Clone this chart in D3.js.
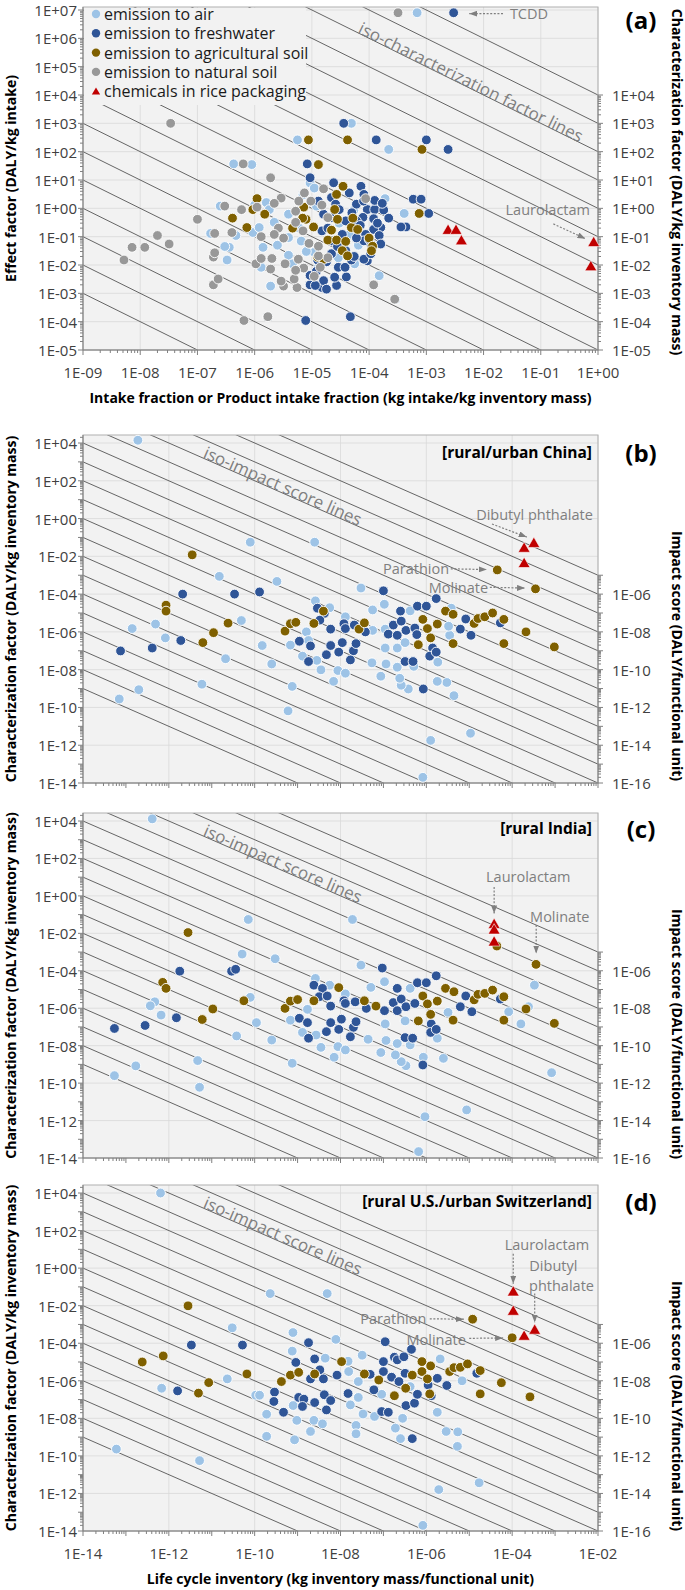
<!DOCTYPE html>
<html><head><meta charset="utf-8">
<script src="https://cdn.jsdelivr.net/npm/d3@7"></script>
<style>
body{margin:0;background:#fff}
svg{display:block}
text{font-family:'Open Sans','Noto Sans',sans-serif}
</style>
</head><body>
<svg id="chart" width="685" height="1590"></svg>
<script>
// ---------------- DATA ----------------
// Panel (a): [intake fraction, effect factor]
const aAir = [[6.9e-4,8e6],[4.9e-5,1e3],[5.6e-6,2.6e2],[2.2e-4,1.2e2],[4.3e-7,37],[8.9e-7,35],[9.3e-6,7.9],[1.1e-5,5.2],[1.9e-4,2.2],[2.5e-7,1.2],[1.6e-6,1.6],[1.7e-7,0.13],[4.7e-7,0.11],[3.6e-7,0.042],[3.3e-7,0.015],[1.7e-6,1.5e-4],[2.9e-4,6.2e-4],[1.5e-4,4.2e-3],[1.9e-6,1.8e-3],[3.9e-6,0.62],[3.9e-6,0.093],[1.4e-6,0.042],[3.9e-6,0.022],[1.3e-6,8.3e-3],[4.6e-6,0.011],[1.1e-5,0.028],[5.4e-5,0.85],[4.5e-5,0.12],[5.6e-5,0.011],[2.9e-5,0.018],[2.2e-6,0.32],[9.3e-7,0.14],[1.2e-6,0.21],[4.1e-4,0.66],[1.3e-5,8.3e-3],[1.0e-6,1.3],[7e-6,3.0],[3e-5,0.3],[6.5e-5,0.05],[2e-5,0.5],[1.6e-5,2.5e-3],[8e-6,0.03],[2.5e-6,0.05],[6e-6,0.2],[1.8e-6,0.9],[3e-7,0.045],[1.2e-5,1.2],[6.5e-6,0.07]];
const aFresh = [[3e-3,8e6],[3.6e-5,1e3],[1.33e-4,2.6e2],[1e-3,2.6e2],[2.4e-3,1.2e2],[8.3e-6,37],[9.3e-6,12],[7.2e-5,6],[5.9e-4,2.1],[8.1e-4,2.1],[7.8e-6,1.1e-4],[4.7e-5,1.5e-4],[1.5e-5,1.6e-3],[2.7e-5,1.9e-3],[2.5e-5,3.7e-3],[4e-5,3.8e-3],[9.3e-6,2e-3],[1.6e-5,2.8e-3],[1.3e-5,1.8],[2.2e-5,2.4],[2.6e-5,1.4],[4.5e-5,3.5],[8.1e-5,3.1],[9.3e-5,0.91],[1.25e-4,0.91],[1.8e-4,0.87],[2.2e-4,0.45],[1.2e-4,0.43],[7.8e-5,0.48],[1.6e-4,0.21],[1.2e-4,0.18],[8.7e-5,0.12],[1.5e-4,0.11],[1.6e-4,0.055],[1.07e-4,0.055],[8.1e-5,0.071],[9.3e-5,0.014],[8.1e-5,0.016],[4.4e-4,0.22],[3.6e-4,0.22],[1.1e-3,0.66],[3.9e-5,0.36],[1.6e-5,0.62],[1.5e-5,0.16],[2.2e-5,0.071],[3.4e-5,0.12],[3.9e-5,0.032],[2.2e-5,0.025],[2.9e-5,8.3e-3],[3.8e-5,8.3e-3],[1.8e-5,0.013],[1.26e-5,0.015],[9.3e-6,4.3e-3],[1.15e-5,1.9e-3],[1.8e-5,1.4e-3],[6e-5,0.36],[6e-5,1.4],[2.4e-5,8],[1.25e-4,1.9],[1.07e-4,0.025],[2.2e-5,0.47],[4.9e-5,0.015],[5e-5,0.7],[7e-5,0.25],[1.4e-4,0.3],[3e-5,0.9],[1e-4,0.08],[6e-5,0.09],[1.9e-5,0.2],[2.8e-5,0.045],[1.2e-5,6e-3],[5.5e-5,0.02],[1.7e-4,1.5],[8e-5,1.8]];
const aAgri = [[8.7e-6,2.6e2],[4.2e-5,2.6e2],[8.4e-4,1.2e2],[1.3e-5,35],[3.5e-5,6],[2.7e-5,3.1],[1.1e-6,2.2],[9.3e-7,0.9],[1.5e-6,0.62],[4.1e-7,0.45],[7.3e-7,0.21],[7.5e-4,0.66],[7.2e-6,1.1],[7.9e-6,0.41],[1.07e-5,0.22],[4.6e-6,0.2],[2.5e-5,0.91],[2.8e-5,0.41],[2.2e-5,0.17],[1.9e-5,0.076],[2.7e-5,0.076],[4.9e-5,0.21],[6.3e-5,0.18],[3.9e-5,0.068],[3.4e-5,0.032],[4.2e-5,0.021],[1e-4,0.089],[1.15e-4,0.046],[1.1e-4,0.032],[1.26e-5,0.019],[1.6e-5,0.016],[6.9e-6,0.45],[5.2e-5,0.45]];
const aNat = [[3.2e-4,8e6],[3.4e-8,1e3],[6.3e-7,37],[1.9e-6,12],[1.6e-5,4.9],[8.7e-5,2.2],[2.9e-6,2.3],[2.2e-6,1.5],[3e-7,1.2],[5.9e-7,0.9],[1.1e-6,1.1],[1e-7,0.41],[4e-7,0.14],[2e-7,0.13],[2e-8,0.11],[3.2e-8,0.055],[7.2e-9,0.042],[1.2e-8,0.042],[5.2e-9,0.015],[1.9e-7,0.019],[2e-7,0.027],[1.9e-7,2e-3],[2.3e-7,3.2e-3],[6.5e-7,1.1e-4],[1.7e-6,1.5e-4],[2.8e-4,6.2e-4],[1.2e-4,2e-3],[3.2e-6,1.8e-3],[5.5e-6,1.6e-3],[4.9e-6,3.2e-3],[2.9e-6,2.7e-3],[1.05e-6,0.011],[1.3e-6,0.017],[2e-6,0.017],[1.9e-6,7.2e-3],[3.4e-6,0.011],[5.8e-6,0.016],[7.2e-6,7.8e-3],[1.1e-5,4e-3],[1.4e-5,8.3e-3],[1.9e-5,0.018],[1.3e-5,0.021],[2.6e-6,0.2],[3.2e-6,0.089],[1.3e-6,0.1],[2.2e-6,0.12],[5.2e-6,0.32],[7e-6,0.16],[8.9e-6,0.058],[5.9e-6,1.8],[7.4e-6,3.5],[9.6e-6,1.8],[1.5e-5,1.3],[1.9e-5,0.47],[5.2e-6,0.79],[1.3e-5,0.046],[5.2e-6,6.5e-3]];
const aRice = [[2.4e-3,0.16],[3.3e-3,0.16],[4.1e-3,0.068],[0.84,0.059],[0.75,8.3e-3]];

// Panel (b) rural/urban China: [life cycle inventory, characterization factor]
const bAir = [[1.9e-13,1.4e4],[7.9e-11,0.056],[2.5e-9,0.056],[1.5e-11,8.7e-4],[3.3e-10,4.7e-4],[3e-8,2.1e-4],[4.9e-11,4e-6],[4.9e-13,2.6e-6],[1.4e-13,1.5e-6],[8.3e-13,4.8e-7],[2.1e-11,3.8e-8],[1.5e-10,1.9e-7],[2.5e-10,2e-8],[5.9e-12,1.7e-9],[2e-13,8.7e-10],[7e-14,2.8e-10],[7.5e-10,1.3e-9],[6e-10,6.6e-11],[1.26e-6,1.8e-12],[1.07e-5,4.3e-12],[8.3e-7,2e-14],[4.4e-6,4.2e-10],[3e-6,2.1e-9],[1.8e-6,2.4e-9],[3.8e-7,9.5e-10],[2.6e-7,1.5e-9],[2.4e-7,3.5e-9],[8.7e-8,4.5e-9],[5.4e-8,2.3e-8],[1.15e-7,2e-8],[2.1e-7,1.35e-8],[1.1e-7,1.4e-7],[5.1e-7,1.5e-8],[1.85e-6,2.5e-8],[3.5e-6,6.6e-7],[6.9e-9,2.4e-9],[3.5e-9,9.8e-9],[8.7e-9,9e-9],[1.3e-8,6.5e-9],[2.8e-9,3.1e-8],[1.3e-9,5.2e-8],[6.8e-10,2e-7],[1.6e-9,1e-6],[2.6e-9,4.4e-5],[5.6e-9,1.9e-5],[1.3e-8,6.3e-6],[5.6e-8,1.45e-5],[1.05e-7,2.9e-5],[1.1e-7,1.4e-6],[5.6e-8,1.2e-6],[4.2e-7,1.3e-5],[3.8e-6,1.8e-5],[2.1e-7,1.4e-7],[3.2e-7,2.7e-7],[3.3e-6,2e-6],[1.8e-9,3.5e-7]];
const bFresh = [[2.1e-12,1e-4],[3.4e-11,1e-4],[1.3e-10,1.3e-4],[1e-7,1.5e-4],[1.7e-6,5.8e-5],[1.9e-12,3.5e-7],[4.1e-13,1.4e-7],[7.5e-14,9.8e-8],[2.9e-9,1.8e-5],[4.2e-9,9.5e-6],[3.3e-9,4.2e-6],[5.9e-9,1.4e-6],[1.2e-8,2.7e-6],[1.3e-8,1.5e-6],[2.1e-8,2.3e-6],[3.8e-8,1e-6],[1.1e-9,3.2e-7],[2e-9,1.8e-7],[1.8e-9,2.7e-8],[4.7e-9,6.2e-8],[5.9e-9,1.9e-7],[9.1e-9,8.5e-8],[1.1e-8,2.7e-7],[2e-8,1e-7],[2.3e-8,2.4e-7],[1.7e-8,3.3e-8],[1.3e-7,7.6e-7],[1.7e-7,2.3e-6],[2.1e-7,6.6e-7],[2.5e-7,1.26e-5],[2.6e-7,3.7e-6],[3.35e-7,1.2e-6],[5.4e-7,1.6e-6],[6.2e-7,2.3e-5],[1e-6,2.3e-5],[1.4e-6,1.4e-7],[1.2e-6,5.2e-8],[1.7e-6,8.5e-8],[3.2e-7,2.7e-8],[4.9e-7,2.7e-8],[6.2e-6,1.4e-6],[8.3e-6,4.8e-6],[1.1e-5,6.6e-7],[5.3e-5,3e-6],[6e-7,7.2e-7],[8.5e-7,9.5e-10]];
const bAgri = [[3.5e-12,0.012],[8.6e-13,2.6e-5],[8.6e-13,1.26e-5],[2.4e-11,2.9e-6],[6.2e-12,2.7e-7],[1.1e-11,9.1e-7],[5.1e-10,1.1e-6],[6.8e-10,2.7e-6],[9.1e-10,3.2e-6],[2.4e-9,2.8e-6],[4e-9,1.26e-5],[2.7e-8,1.4e-6],[3.6e-8,3e-6],[6.5e-7,2.1e-7],[8.3e-7,4.6e-6],[1.06e-6,1.5e-6],[1.26e-6,4.8e-7],[1.8e-6,2.6e-6],[2.8e-6,1.26e-5],[4.2e-6,8.5e-6],[4.2e-6,2.4e-7],[1.3e-5,2.8e-6],[1.6e-5,5.1e-6],[2.3e-5,6.3e-6],[3.5e-5,1e-5],[6.4e-5,4.6e-6],[6.4e-5,2.4e-7],[2.1e-4,1e-6],[9.6e-4,1.6e-7],[4.5e-5,1.9e-3],[3.5e-4,1.9e-4]];
const bRice = [[3.2e-4,0.045],[1.9e-4,0.025],[1.9e-4,3.9e-3]];

// Panel (c) rural India
const cAir = [[4.1e-13,1.3e4],[7.1e-11,0.055],[1.9e-8,0.055],[5.1e-11,7.8e-4],[3e-10,4.4e-4],[3e-8,2e-4],[3.3e-4,1.7e-5],[4.7e-13,2.2e-6],[3.7e-13,1.35e-6],[6.6e-13,4.3e-7],[7.9e-11,3.8e-6],[3.8e-11,3.3e-8],[1.1e-10,1.7e-7],[2.5e-10,2e-8],[4.7e-12,1.6e-9],[1.7e-13,8.3e-10],[5.4e-14,2.5e-10],[5.2e-12,6e-11],[7.5e-10,1.15e-9],[9.3e-7,1.6e-12],[8.7e-6,3.7e-12],[6.6e-7,2.2e-14],[8.3e-4,3.6e-10],[1.6e-4,1.45e-7],[8.3e-5,6.5e-7],[2.4e-4,1.2e-6],[2.5e-6,2.1e-9],[8.5e-7,2.4e-9],[3.35e-7,8.5e-10],[2.6e-7,1.4e-9],[1.9e-7,3.2e-9],[8.7e-8,4.3e-9],[4.4e-8,2.2e-8],[1.15e-7,1.9e-8],[2.1e-7,1.3e-8],[4.2e-7,1.1e-8],[1.8e-6,2.5e-8],[1.1e-7,1.45e-7],[3.2e-7,2.1e-7],[3.2e-6,6e-7],[5.1e-8,1.3e-5],[1.06e-7,2.6e-5],[4.2e-7,1.15e-5],[2.6e-9,3.9e-5],[5.6e-9,1.7e-5],[1.3e-8,5.8e-6],[1.7e-9,8.7e-7],[6.8e-10,2.3e-7],[1.3e-9,5.1e-8],[2.7e-9,3.7e-8],[3.5e-9,8.1e-9],[8.7e-9,8.9e-9],[1.3e-8,5.9e-9],[7.1e-9,2.4e-9]];
const cFresh = [[1.8e-12,9.5e-5],[2.9e-11,9.5e-5],[3.6e-11,1.2e-4],[9.4e-8,1.4e-4],[1.7e-6,5.4e-5],[1.5e-12,3.1e-7],[2.8e-13,1.2e-7],[5.4e-14,8.3e-8],[8.3e-7,9.3e-10],[2.4e-9,1.7e-5],[3.8e-9,1.15e-5],[3.2e-9,4.1e-6],[4.9e-9,4.5e-6],[5.9e-9,1.3e-6],[1.2e-8,2.5e-6],[1.3e-8,1.8e-6],[2.2e-8,2.2e-6],[4e-8,9.8e-7],[1.1e-9,2.9e-7],[1.7e-9,1.7e-7],[1.8e-9,2.5e-8],[4.7e-9,5.6e-8],[5.9e-9,1.7e-7],[9.1e-9,7.4e-8],[1.05e-8,2.6e-7],[2e-8,9.5e-8],[2.3e-8,1.9e-7],[1.7e-8,3e-8],[1.06e-7,7.4e-7],[1.7e-7,2e-6],[2.1e-7,1.15e-5],[2.6e-7,3.1e-6],[2.1e-7,7.4e-7],[3.35e-7,1.2e-6],[5.4e-7,1.8e-6],[6.2e-7,2.3e-5],[1e-6,2.3e-5],[1.3e-6,1.45e-7],[1.26e-6,5.1e-8],[1.7e-6,7.4e-8],[3.2e-7,2.7e-8],[4.8e-7,2.5e-8],[6.2e-6,1.2e-6],[8.3e-6,4.5e-6],[1.15e-5,6.5e-7],[5.3e-5,3.1e-6]];
const cAgri = [[2.8e-12,0.011],[7.2e-13,2.4e-5],[8.6e-13,1.15e-5],[6e-12,2.5e-7],[1.06e-11,9.1e-7],[5.6e-11,2.5e-6],[5.1e-10,9.8e-7],[6.8e-10,2.4e-6],[1e-9,2.9e-6],[2.4e-9,2.5e-6],[9.1e-9,1.26e-5],[3.6e-8,2.5e-6],[6.7e-8,1.3e-6],[6.5e-7,2.1e-7],[8.3e-7,4.5e-6],[1.06e-6,1.7e-6],[1.26e-6,4.7e-7],[1.8e-6,2.4e-6],[2.8e-6,1.15e-5],[4.4e-6,7.6e-6],[4.2e-6,2.3e-7],[1.3e-5,2.8e-6],[1.6e-5,5.5e-6],[2.3e-5,6.2e-6],[3.5e-5,9.3e-6],[6.4e-5,4.1e-6],[6.4e-5,2.3e-7],[2.1e-4,9.1e-7],[9.6e-4,1.55e-7],[4.4e-5,2.1e-3],[3.6e-4,2.2e-4]];
const cRice = [[3.8e-5,0.028],[3.8e-5,0.014],[3.8e-5,3.2e-3]];

// Panel (d) rural U.S./urban Switzerland
const dAir = [[6.4e-13,1e4],[2.3e-10,0.044],[4.9e-9,0.044],[3e-11,6.6e-4],[7.8e-10,3.7e-4],[7.8e-9,1.6e-4],[6.8e-13,4e-7],[2.3e-11,1.26e-6],[6e-14,2.3e-10],[5.2e-12,5.6e-11],[1.06e-10,1.7e-7],[1.9e-10,1.65e-8],[1.9e-10,1.1e-9],[8.5e-10,7.2e-10],[9.6e-10,7.8e-9],[2e-9,2e-9],[2.4e-9,7.8e-9],[3.8e-9,5.1e-9],[7.9e-10,4.8e-8],[7.5e-10,3.8e-5],[4.4e-9,1.6e-5],[1.5e-8,1.1e-5],[1.55e-8,3.1e-6],[3.2e-8,2.3e-5],[2.6e-8,9.1e-7],[2.6e-8,1.3e-7],[1.7e-8,5.2e-8],[3.35e-8,1.7e-8],[2.3e-8,4.2e-9],[2.3e-8,1.5e-9],[6.2e-8,1.26e-8],[9.1e-8,1.9e-7],[2.8e-7,1e-8],[1.9e-7,3e-9],[2.5e-7,8.3e-10],[1.8e-6,2.1e-8],[2.9e-6,2e-9],[5.4e-6,1.9e-9],[5.3e-6,3.2e-10],[1.7e-5,3.7e-12],[1.95e-6,1.6e-12],[8.3e-7,2e-14],[6.8e-6,1e-6],[2.1e-6,1.45e-5],[4.2e-7,4.9e-7],[1.3e-10,1.7e-7]];
const dFresh = [[3.35e-12,8e-5],[5.2e-11,8e-5],[1.8e-9,1.07e-4],[1.1e-7,1.2e-4],[4.5e-7,4.7e-5],[1.6e-12,2.9e-7],[2.9e-10,2.5e-7],[2.8e-10,7.9e-8],[4.7e-10,2.1e-8],[9.1e-10,9.5e-6],[1.06e-9,1.3e-7],[1.4e-9,1.05e-7],[1.3e-9,4.3e-8],[2e-9,1.26e-6],[2.5e-9,1.45e-5],[2.5e-9,6.9e-8],[3.3e-9,3.8e-6],[4e-9,1.26e-6],[4.2e-9,1.8e-7],[4.7e-9,2.8e-8],[5.9e-9,8.9e-8],[8.3e-9,2e-6],[1.5e-8,2.1e-7],[4.9e-8,2.2e-6],[6e-8,3.3e-7],[1e-7,1.05e-5],[1e-7,3.1e-6],[9.1e-8,2.3e-8],[1.3e-7,2.1e-8],[1.55e-7,1.55e-6],[1.8e-7,1.8e-5],[2.1e-7,1.3e-5],[2.3e-7,9.1e-7],[3e-7,1.9e-5],[3.2e-7,2.5e-6],[3.35e-7,4.8e-8],[5.3e-7,6.4e-8],[6.2e-7,1.9e-7],[4.7e-7,8.3e-10],[1.1e-6,6e-7],[1.3e-6,1.6e-7],[1.8e-6,1.35e-6],[3e-6,5.6e-7],[4.1e-6,4.1e-6],[1.5e-5,2.5e-6]];
const dAgri = [[2.8e-12,9.8e-3],[2.4e-13,1e-5],[7.4e-13,2.1e-5],[4.9e-12,2.2e-7],[8.5e-12,8e-7],[6.6e-11,2.3e-6],[4.2e-10,9.1e-7],[6.8e-10,2e-6],[1.06e-9,2.8e-6],[2.5e-9,2.3e-6],[1.06e-8,1.05e-5],[3.6e-8,2.3e-6],[7.8e-8,1.1e-6],[1.8e-7,1.6e-7],[3.3e-7,4e-7],[4.7e-7,2e-6],[7.9e-7,1.05e-5],[7.9e-7,3.1e-6],[1.06e-6,1.26e-6],[1.2e-6,2e-7],[1.26e-6,6.2e-6],[3.5e-6,3.1e-6],[4.4e-6,5e-6],[6.2e-6,5.2e-6],[9.1e-6,7.9e-6],[1.8e-5,3.5e-6],[1.8e-5,2e-7],[5.6e-5,7.9e-7],[2.6e-4,1.4e-7],[1.2e-5,1.9e-3],[1e-4,1.95e-4]];
const dRice = [[1.06e-4,0.05],[1.06e-4,4.7e-3],[1.9e-4,2.2e-4],[3.35e-4,4.6e-4]];

// ---------------- TICKS / CATEGORIES ----------------
const legendLabels = ["emission to air","emission to freshwater","emission to agricultural soil","emission to natural soil","chemicals in rice packaging"];
const aXTicks = [1e-9,1e-8,1e-7,1e-6,1e-5,1e-4,1e-3,1e-2,1e-1,1e0];
const aYTicks = [1e-5,1e-4,1e-3,1e-2,1e-1,1e0,1e1,1e2,1e3,1e4,1e5,1e6,1e7];
const aRightTicks = [1e-5,1e-4,1e-3,1e-2,1e-1,1e0,1e1,1e2,1e3,1e4];
const lciTicks = [1e-14,1e-12,1e-10,1e-8,1e-6,1e-4,1e-2];
const cfTicks = [1e-14,1e-12,1e-10,1e-8,1e-6,1e-4,1e-2,1e0,1e2,1e4];
const impactTicks = [1e-16,1e-14,1e-12,1e-10,1e-8,1e-6];
const isoCF = [1e-12,1e-11,1e-10,1e-9,1e-8,1e-7,1e-6,1e-5,1e-4,1e-3,1e-2,1e-1,1e0,1e1,1e2,1e3,1e4];
const isoImpact = [1e-23,1e-22,1e-21,1e-20,1e-19,1e-18,1e-17,1e-16,1e-15,1e-14,1e-13,1e-12,1e-11,1e-10,1e-9,1e-8,1e-7,1e-6,1e-5];

// ---------------- RENDER ----------------
const COL = {air:"#9DC3E6", fresh:"#2F5597", agri:"#7F6000", nat:"#989898", rice:"#C00000"};
const GRAY = "#7f7f7f";
const svg = d3.select("#chart");
const X0 = 83, X1 = 598;
const fmt = v => { const e = Math.round(Math.log10(v)); return "1E" + (e < 0 ? "-" : "+") + String(Math.abs(e)).padStart(2, "0"); };

const defs = svg.append("defs");
defs.append("marker").attr("id","arr").attr("viewBox","0 0 8 6").attr("refX",8).attr("refY",3)
  .attr("markerWidth",8).attr("markerHeight",6).attr("markerUnits","userSpaceOnUse").attr("orient","auto")
  .append("path").attr("d","M0,0L8,3L0,6Z").attr("fill",GRAY);

function decades(lo, hi) { const out = []; for (let e = Math.round(Math.log10(lo)); e <= Math.round(Math.log10(hi)); e++) out.push(Math.pow(10, e)); return out; }

function panel(p) {
  const g = svg.append("g");
  const x = d3.scaleLog().domain(p.xDom).range([X0, X1]);
  const y = d3.scaleLog().domain(p.yDom).range([p.yBot, p.yTopTick]);
  const top = p.top, bot = p.yBot;
  const clipId = "clip_" + p.name;
  defs.append("clipPath").attr("id", clipId).append("rect").attr("x", X0).attr("y", top).attr("width", X1 - X0).attr("height", bot - top);

  g.append("rect").attr("x", X0).attr("y", top).attr("width", X1 - X0).attr("height", bot - top).attr("fill", "#f2f2f2");
  // gridlines
  p.xTicks.forEach(v => g.append("line").attr("x1", x(v)).attr("x2", x(v)).attr("y1", top).attr("y2", bot).attr("stroke", "#d9d9d9").attr("stroke-width", 0.8));
  p.yTicks.filter(v => y(v) >= top).forEach(v => g.append("line").attr("x1", X0).attr("x2", X1).attr("y1", y(v)).attr("y2", y(v)).attr("stroke", "#d9d9d9").attr("stroke-width", 0.8));
  // iso lines
  const lx0 = Math.log10(p.xDom[0]), lx1 = Math.log10(p.xDom[1]);
  const gi = g.append("g").attr("clip-path", `url(#${clipId})`);
  p.iso.forEach(k => {
    const lk = Math.log10(k);
    gi.append("line").attr("x1", x(p.xDom[0])).attr("y1", y(Math.pow(10, lk - lx0)))
      .attr("x2", x(p.xDom[1])).attr("y2", y(Math.pow(10, lk - lx1)))
      .attr("stroke", "#555").attr("stroke-width", 0.9);
  });
  const ang = Math.atan2(y(1e-1) - y(1), x(10) - x(1)) * 180 / Math.PI;
  {
    const lx = p.isoLabel.lx, ly = p.isoLabel.k - lx;
    gi.append("text").attr("transform", `translate(${x(Math.pow(10, lx))},${y(Math.pow(10, ly))}) rotate(${ang})`)
      .attr("dominant-baseline", "central").attr("fill", GRAY).attr("font-size", 17).text(p.isoLabel.text);
  }
  if (p.legend) {
    g.append("rect").attr("x", X0 + 1).attr("y", top + 1).attr("width", 222).attr("height", 97).attr("fill", "#f2f2f2");
    const keys = ["air", "fresh", "agri", "nat", "rice"];
    legendLabels.forEach((t, i) => {
      const cy = top + 7 + i * 19.3;
      if (keys[i] === "rice") g.append("path").attr("d", d3.symbol(d3.symbolTriangle, 30)()).attr("transform", `translate(96,${cy + 1})`).attr("fill", COL.rice);
      else g.append("circle").attr("cx", 96).attr("cy", cy).attr("r", 4.2).attr("fill", COL[keys[i]]);
      g.append("text").attr("x", 104).attr("y", cy).attr("dominant-baseline", "central").attr("font-size", 16).attr("fill", "#1a1a1a").text(t);
    });
  }
  g.append("rect").attr("x", X0).attr("y", top).attr("width", X1 - X0).attr("height", bot - top).attr("fill", "none").attr("stroke", "#b0b0b0").attr("stroke-width", 1);
  // axes
  const ax = g.append("g").attr("stroke", "#808080").attr("stroke-width", 1);
  ax.append("line").attr("x1", X0).attr("x2", X0).attr("y1", top).attr("y2", bot);
  ax.append("line").attr("x1", X0).attr("x2", X1).attr("y1", bot).attr("y2", bot);
  decades(p.yDom[0], p.yTopVal).forEach(v => {
    ax.append("line").attr("x1", X0 - 5).attr("x2", X0).attr("y1", y(v)).attr("y2", y(v));
    for (let m = 2; m <= 9; m++) { const yy = y(v * m); if (yy >= top && v * m < p.yTopVal * 3) ax.append("line").attr("x1", X0 - 3).attr("x2", X0).attr("y1", yy).attr("y2", yy); }
  });
  decades(p.xDom[0], p.xDom[1]).forEach(v => {
    ax.append("line").attr("x1", x(v)).attr("x2", x(v)).attr("y1", bot).attr("y2", bot + 5);
    if (v < p.xDom[1]) for (let m = 2; m <= 9; m++) ax.append("line").attr("x1", x(v * m)).attr("x2", x(v * m)).attr("y1", bot).attr("y2", bot + 3);
  });
  const rTop = y(p.rightStart / p.xDom[1]);
  ax.append("line").attr("x1", X1).attr("x2", X1).attr("y1", rTop).attr("y2", bot);
  decades(p.yDom[0], p.rightStart / p.xDom[1]).forEach(v => {
    ax.append("line").attr("x1", X1).attr("x2", X1 + 5).attr("y1", y(v)).attr("y2", y(v));
    if (v < p.rightStart / p.xDom[1]) for (let m = 2; m <= 9; m++) ax.append("line").attr("x1", X1).attr("x2", X1 + 3).attr("y1", y(v * m)).attr("y2", y(v * m));
  });
  // tick labels
  const tl = g.append("g").attr("font-size", 15).attr("fill", "#404040");
  p.yTicks.forEach(v => tl.append("text").attr("x", X0 - 6).attr("y", y(v)).attr("text-anchor", "end").attr("dominant-baseline", "central").text(fmt(v)));
  p.rightTicks.forEach(v => tl.append("text").attr("x", X1 + 14).attr("y", y(v / p.xDom[1])).attr("dominant-baseline", "central").text(fmt(v)));
  if (p.xLabels) p.xTicks.forEach(v => tl.append("text").attr("x", x(v)).attr("y", bot + 22).attr("text-anchor", "middle").attr("dominant-baseline", "central").text(fmt(v)));
  // axis titles
  const tt = g.append("g").attr("font-size", 14).attr("font-weight", "bold").attr("fill", "#000");
  tt.append("text").attr("transform", `translate(10,${(top + bot) / 2}) rotate(-90)`).attr("text-anchor", "middle").attr("dominant-baseline", "central").text(p.leftTitle);
  tt.append("text").attr("transform", `translate(677,${p.rightTitleY}) rotate(90)`).attr("text-anchor", "middle").attr("dominant-baseline", "central").text(p.rightTitle);
  if (p.xTitle) tt.append("text").attr("x", (X0 + X1) / 2).attr("y", bot + 47).attr("text-anchor", "middle").attr("dominant-baseline", "central").text(p.xTitle);
  g.append("text").attr("x", 641).attr("y", p.letterY).attr("text-anchor", "middle").attr("dominant-baseline", "central").attr("font-size", 24).attr("font-weight", "bold").text(p.letter);
  if (p.subtitle) g.append("text").attr("x", 592).attr("y", p.letterY).attr("text-anchor", "end").attr("dominant-baseline", "central").attr("font-size", 15.5).attr("font-weight", "bold").text(p.subtitle);
  // points
  const gp = g.append("g");
  p.series.forEach(s => {
    if (s.key === "rice") {
      s.data.forEach(d => gp.append("path").attr("d", d3.symbol(d3.symbolTriangle, 62)()).attr("transform", `translate(${x(d[0])},${y(d[1])})`).attr("fill", COL.rice).attr("stroke", "#fff").attr("stroke-width", 0.6));
    } else {
      gp.selectAll(null).data(s.data).enter().append("circle").attr("cx", d => x(d[0])).attr("cy", d => y(d[1])).attr("r", 4.9)
        .attr("fill", COL[s.key]).attr("stroke", "#fff").attr("stroke-width", 0.9);
    }
  });
  // annotations
  const ga = g.append("g");
  p.texts.forEach(t => ga.append("text").attr("x", x(Math.pow(10, t.lx))).attr("y", y(Math.pow(10, t.ly)))
    .attr("text-anchor", t.anchor).attr("dominant-baseline", "central").attr("font-size", 14.5).attr("fill", GRAY).text(t.t));
  p.arrows.forEach(a => ga.append("line").attr("x1", x(Math.pow(10, a[0]))).attr("y1", y(Math.pow(10, a[1])))
    .attr("x2", x(Math.pow(10, a[2]))).attr("y2", y(Math.pow(10, a[3])))
    .attr("stroke", GRAY).attr("stroke-width", 1.2).attr("stroke-dasharray", "2,1.6").attr("marker-end", "url(#arr)"));
}

const cfTitle = "Characterization factor (DALY/kg inventory mass)";
const impTitle = "Impact score (DALY/functional unit)";

panel({
  name: "a", xDom: [1e-9, 1e0], yDom: [1e-5, 1e7], yBot: 350, yTopTick: 10, top: 7, yTopVal: 1e7,
  xTicks: aXTicks, yTicks: aYTicks, rightTicks: aRightTicks, rightStart: 1e4, xLabels: true,
  iso: isoCF, isoLabel: {text: "iso-characterization factor lines", lx: -4.16, k: 2.25},
  legend: true,
  leftTitle: "Effect factor (DALY/kg intake)", rightTitle: cfTitle, rightTitleY: 182,
  xTitle: "Intake fraction or Product intake fraction (kg intake/kg inventory mass)",
  letter: "(a)", letterY: 19,
  series: [{key: "air", data: aAir}, {key: "fresh", data: aFresh}, {key: "agri", data: aAgri}, {key: "nat", data: aNat}, {key: "rice", data: aRice}],
  texts: [{t: "TCDD", lx: -1.54, ly: 6.86, anchor: "start"}, {t: "Laurolactam", lx: -0.14, ly: -0.05, anchor: "end"}],
  arrows: [[-1.66, 6.87, -2.25, 6.87], [-0.78, -0.55, -0.22, -1.07]]
});

function lcPanel(o) {
  panel(Object.assign({
    xDom: [1e-14, 1e-2], yDom: [1e-14, 1e4], yTopVal: 1e4,
    xTicks: lciTicks, yTicks: cfTicks, rightTicks: impactTicks, rightStart: 1e-5,
    iso: isoImpact, isoLabel: {text: "iso-impact score lines", lx: -11.16, k: -7.6},
    leftTitle: cfTitle, rightTitle: impTitle
  }, o));
}

lcPanel({
  name: "b", yBot: 783, yTopTick: 443, top: 435, rightTitleY: 656, letter: "(b)", letterY: 452, subtitle: "[rural/urban China]",
  series: [{key: "air", data: bAir}, {key: "fresh", data: bFresh}, {key: "agri", data: bAgri}, {key: "rice", data: bRice}],
  texts: [{t: "Dibutyl phthalate", lx: -2.12, ly: 0.24, anchor: "end"}, {t: "Parathion", lx: -5.47, ly: -2.62, anchor: "end"}, {t: "Molinate", lx: -4.56, ly: -3.67, anchor: "end"}],
  arrows: [[-4.47, -0.29, -3.66, -0.98], [-5.43, -2.66, -4.59, -2.7], [-4.52, -3.64, -3.7, -3.68]]
});

lcPanel({
  name: "c", yBot: 1158, yTopTick: 821, top: 813, rightTitleY: 1034, letter: "(c)", letterY: 828, subtitle: "[rural India]",
  series: [{key: "air", data: cAir}, {key: "fresh", data: cFresh}, {key: "agri", data: cAgri}, {key: "rice", data: cRice}],
  texts: [{t: "Laurolactam", lx: -3.625, ly: 1.06, anchor: "middle"}, {t: "Molinate", lx: -2.89, ly: -1.08, anchor: "middle"}],
  arrows: [[-4.42, 0.48, -4.42, -0.94], [-3.44, -1.56, -3.44, -3.08]]
});

lcPanel({
  name: "d", yBot: 1531, yTopTick: 1193, top: 1185, rightTitleY: 1406, letter: "(d)", letterY: 1201, subtitle: "[rural U.S./urban Switzerland]",
  xLabels: true, xTitle: "Life cycle inventory (kg inventory mass/functional unit)",
  series: [{key: "air", data: dAir}, {key: "fresh", data: dFresh}, {key: "agri", data: dAgri}, {key: "rice", data: dRice}],
  texts: [{t: "Laurolactam", lx: -3.19, ly: 1.24, anchor: "middle"}, {t: "Dibutyl", lx: -3.04, ly: 0.15, anchor: "middle"}, {t: "phthalate", lx: -2.85, ly: -0.9, anchor: "middle"},
          {t: "Parathion", lx: -6.0, ly: -2.68, anchor: "end"}, {t: "Molinate", lx: -5.08, ly: -3.78, anchor: "end"}],
  arrows: [[-3.975, 0.76, -3.975, -0.83], [-3.475, -1.35, -3.475, -2.9], [-5.92, -2.7, -5.125, -2.72], [-5.0, -3.74, -4.21, -3.72]]
});
</script>
</body></html>
